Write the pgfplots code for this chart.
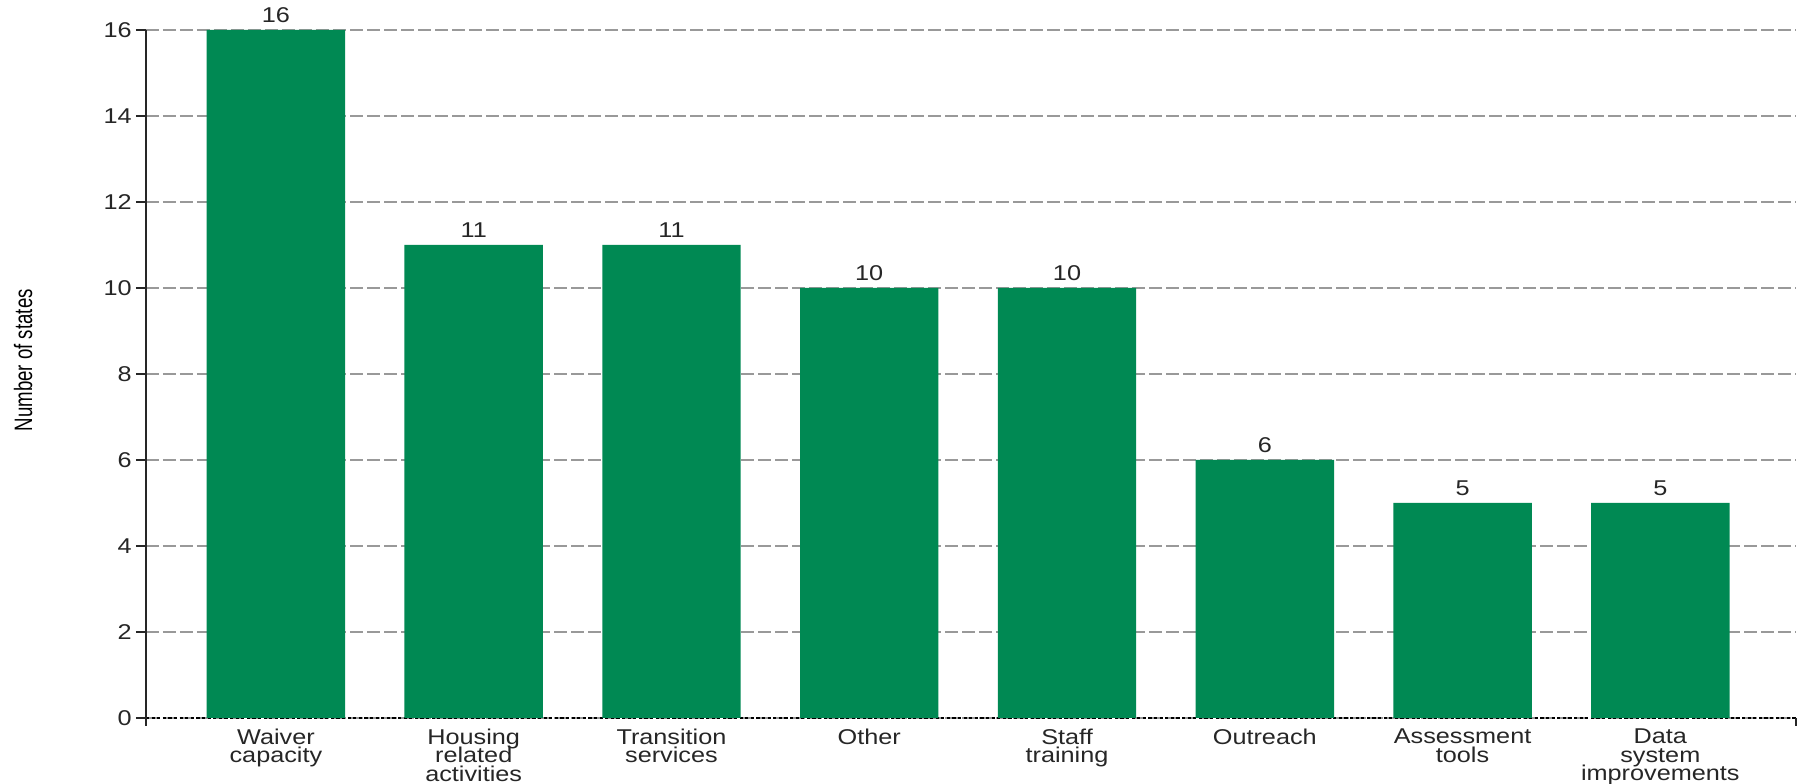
\documentclass[border=0pt]{standalone}
\usepackage{pgfplots}
\pgfplotsset{compat=1.18}
\usepackage{fontspec}
\setmainfont[FakeStretch=1.18]{Liberation Sans}
\newfontfamily\ylfont[FakeStretch=0.74]{Liberation Sans}
\definecolor{barg}{RGB}{0,137,83}
\newcommand\xlfont{\fontsize{10.7}{9.2}\selectfont\lineskiplimit=-20pt\relax}
\begin{document}
\begin{tikzpicture}
\begin{axis}[
  scale only axis, width=825pt, height=344pt,
  xmin=-0.657, xmax=7.686, ymin=0, ymax=16,
  ytick={0,2,...,16},
  xtick={0,...,7},
  xticklabels={{Waiver\\capacity},{Housing\\related\\activities},{Transition\\services},{Other},{Staff\\training},{Outreach},{Assessment\\tools},{Data\\system\\improvements}},
  xticklabel style={align=center, font=\xlfont, text=black!85, inner sep=0pt, anchor=north},
  xticklabel shift=0.3pt,
  yticklabel style={font=\fontsize{10.7}{11}\selectfont, text=black!85, inner sep=2pt},
  /pgf/number format/assume math mode=true,
  axis x line*=bottom, axis y line*=left,
  x axis line style={-, black, line width=0.7pt, dash pattern=on 1.6pt off 1.2pt},
  y axis line style={-, black!85, line width=0.8pt},
  xtick style={draw=none},
  ytick style={black!85, line width=0.7pt},
  tick align=outside, major tick length=5pt,
  ymajorgrids, grid style={black!40, line width=0.65pt, dash pattern=on 6.5pt off 2pt},
  ylabel={\ylfont\fontsize{12.6}{13}\selectfont Number of states},
  ylabel style={at={(axis description cs:0,0.52)}, yshift=61.5pt, anchor=center},
  ybar, bar width=0.7,
  nodes near coords,
  nodes near coords style={font=\fontsize{10.7}{11}\selectfont, text=black!85, inner sep=0pt, yshift=3.5pt},
  clip=false,
]
\addplot[fill=barg, draw=none] coordinates {(0,16) (1,11) (2,11) (3,10) (4,10) (5,6) (6,5) (7,5)};
\coordinate (O) at (rel axis cs:0,0);
\coordinate (T) at (rel axis cs:1,1);
\draw[black!85, line width=0.7pt] (rel axis cs:0,0) -- ++(0pt,-4pt);
\draw[black!85, line width=0.7pt] (rel axis cs:1,0) -- ++(0pt,-4pt);
\end{axis}
\pgfresetboundingbox
\path ([shift={(-73pt,-33pt)}]O) rectangle ([shift={(3.5pt,15pt)}]T);
\end{tikzpicture}
\end{document}
